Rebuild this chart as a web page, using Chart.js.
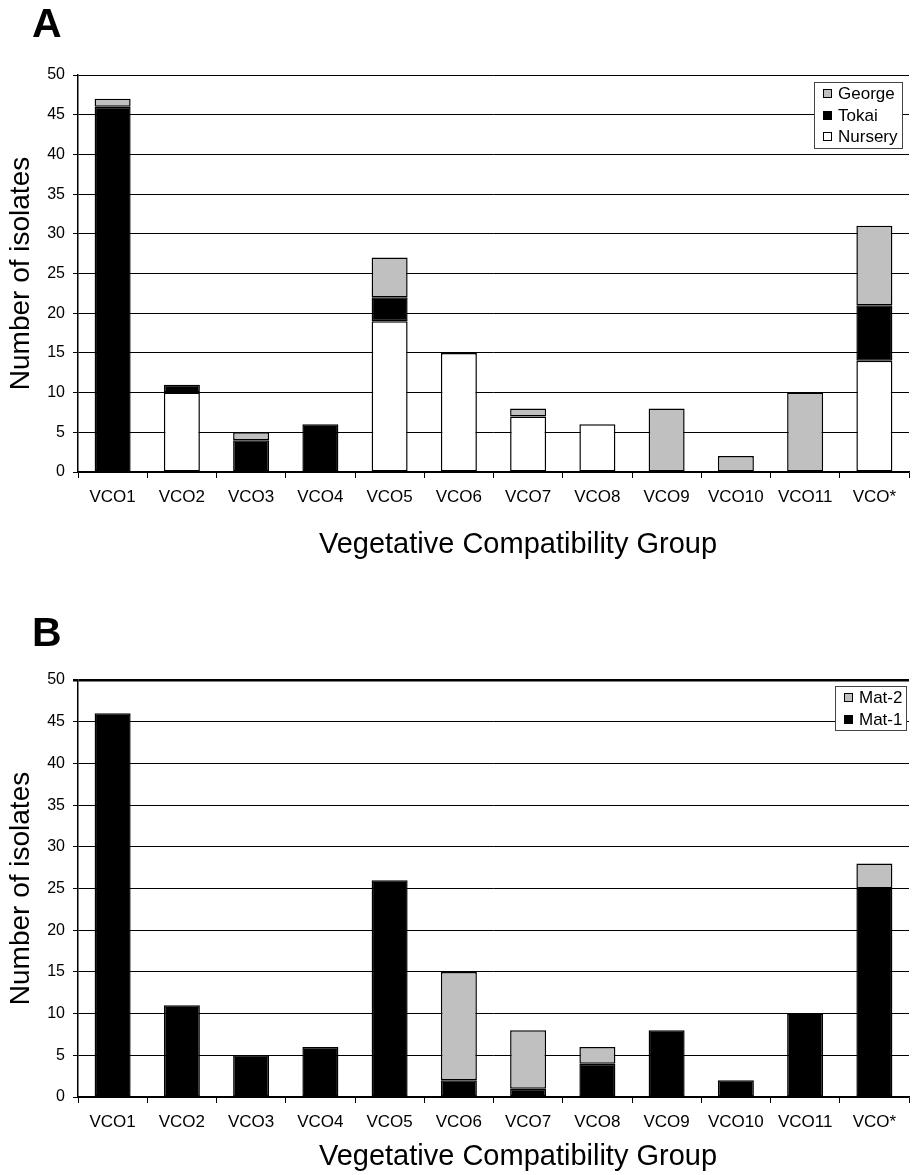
<!DOCTYPE html>
<html lang="en">
<head>
<meta charset="UTF-8">
<title>Number of isolates per Vegetative Compatibility Group</title>
<script src="https://cdn.jsdelivr.net/npm/chart.js"></script>
<style>
  body { margin: 0; background: #fff; font-family: "Liberation Sans", Arial, sans-serif; }
  .panel { position: absolute; left: 0; width: 914px; }
  .letter { position: absolute; left: 32px; font-weight: bold; font-size: 41px; line-height: 1; color: #000; }
  canvas { display: block; }
</style>
</head>
<body>
<div class="panel" style="top:0;height:580px">
  <div class="letter" style="top:3px">A</div>
  <canvas id="chartA" width="914" height="580"></canvas>
</div>
<div class="panel" style="top:580px;height:595px">
  <div class="letter" style="top:32px">B</div>
  <canvas id="chartB" width="914" height="595"></canvas>
</div>
<script>
// categories
const groups = ['VCO1', 'VCO2', 'VCO3', 'VCO4', 'VCO5', 'VCO6', 'VCO7', 'VCO8', 'VCO9', 'VCO10', 'VCO11', 'VCO*'];

// panel A: isolates by origin (stacked bottom to top: Nursery, Tokai, George)
const nurseryA = [0, 10, 0, 0, 19, 15, 7, 6, 0, 0, 0, 14];
const tokaiA   = [46, 1, 4, 6, 3, 0, 0, 0, 0, 0, 0, 7];
const georgeA  = [1, 0, 1, 0, 5, 0, 1, 0, 8, 2, 10, 10];

// panel B: isolates by mating type (stacked bottom to top: Mat-1, Mat-2)
const mat1B = [46, 11, 5, 6, 26, 2, 1, 4, 8, 2, 10, 25];
const mat2B = [0, 0, 0, 0, 0, 13, 7, 2, 0, 0, 0, 3];

// y axis
const yMax = 50;
const yStep = 5;

const FONT = '"Liberation Sans", Arial, sans-serif';
Chart.defaults.font.family = FONT;
Chart.defaults.color = '#000';

// legend drawn as a framed box inside the plot, top series first
const boxLegend = {
  id: 'boxLegend',
  afterDraw(chart, args, opts) {
    const ctx = chart.ctx;
    const items = chart.data.datasets.slice().reverse();
    ctx.save();
    ctx.font = '17px ' + FONT;
    const textW = Math.max(...items.map(d => ctx.measureText(d.label).width));
    const rowH = 21.5, padL = 9, mark = 9, gap = 6, padR = 4;
    const w = Math.round(padL + mark + gap + textW + padR);
    const h = Math.round(items.length * rowH + 1);
    const x = Math.round(chart.chartArea.right - opts.right - w);
    const y = Math.round(chart.chartArea.top + opts.top);
    ctx.fillStyle = '#fff';
    ctx.fillRect(x, y, w, h);
    ctx.strokeStyle = '#444';
    ctx.lineWidth = 1;
    ctx.strokeRect(x + 0.5, y + 0.5, w, h);
    items.forEach((d, i) => {
      const cy = y + 1 + rowH * i + rowH / 2;
      const mx = x + padL, my = Math.round(cy - mark / 2);
      ctx.fillStyle = d.backgroundColor;
      ctx.fillRect(mx, my, mark, mark);
      ctx.strokeStyle = '#000';
      ctx.strokeRect(mx + 0.5, my + 0.5, mark - 1, mark - 1);
      ctx.fillStyle = '#000';
      ctx.textBaseline = 'middle';
      ctx.fillText(d.label, mx + mark + gap, cy + 1);
    });
    ctx.restore();
  }
};

// x axis title, set a little right of the plot centre as in the original figure
const xTitle = {
  id: 'xTitle',
  afterDraw(chart, args, opts) {
    const ctx = chart.ctx;
    ctx.save();
    ctx.font = opts.size + 'px ' + FONT;
    ctx.fillStyle = '#000';
    ctx.textAlign = 'center';
    ctx.textBaseline = 'middle';
    ctx.fillText(opts.text, opts.x, chart.height - opts.bottom);
    ctx.restore();
  }
};

function series(label, values, color) {
  return {
    label: label,
    data: values.map(v => v || null),
    backgroundColor: color,
    borderColor: '#000',
    borderWidth: 1.5,
    borderSkipped: false,
    categoryPercentage: 1,
    barPercentage: 0.52
  };
}

function makeChart(id, datasets, o) {
  return new Chart(document.getElementById(id), {
    type: 'bar',
    data: { labels: groups, datasets: datasets },
    plugins: [boxLegend, xTitle],
    options: {
      responsive: false,
      animation: false,
      events: [],
      layout: { padding: { top: o.top, right: 5, left: 0, bottom: 0 } },
      plugins: {
        legend: { display: false },
        tooltip: { enabled: false },
        boxLegend: o.legend,
        xTitle: { text: 'Vegetative Compatibility Group', size: 29, x: 518, bottom: o.titleBottom }
      },
      scales: {
        x: {
          stacked: true,
          grid: { display: true, drawOnChartArea: false, drawTicks: true, tickLength: 6, color: '#000', offset: true },
          border: { color: '#000', width: 1.5 },
          ticks: { color: '#000', font: { size: 17 }, padding: 9, maxRotation: 0, autoSkip: false },
          title: { display: false },
          afterFit: s => { s.height = o.xHeight; }
        },
        y: {
          stacked: true,
          min: 0,
          max: yMax,
          ticks: { stepSize: yStep, color: '#000', font: { size: 16 }, padding: 8 },
          grid: {
            color: '#000',
            tickLength: 5,
            lineWidth: c => (o.topBorder && c.tick && c.tick.value === yMax) ? 2.5 : 1
          },
          border: { color: '#000', width: 1.5 },
          title: {
            display: true, text: 'Number of isolates', color: '#000',
            font: { size: 28, lineHeight: 1 }, padding: { top: 7, bottom: 0 }
          },
          afterFit: s => { s.width = 78; }
        }
      }
    }
  });
}

makeChart('chartA', [
  series('Nursery', nurseryA, '#ffffff'),
  series('Tokai', tokaiA, '#000000'),
  series('George', georgeA, '#c0c0c0')
], { top: 75, xHeight: 108, titleBottom: 35, topBorder: false, legend: { right: 7, top: 7 } });

makeChart('chartB', [
  series('Mat-1', mat1B, '#000000'),
  series('Mat-2', mat2B, '#c0c0c0')
], { top: 100, xHeight: 78, titleBottom: 18, topBorder: true, legend: { right: 3, top: 6 } });
</script>
</body>
</html>
